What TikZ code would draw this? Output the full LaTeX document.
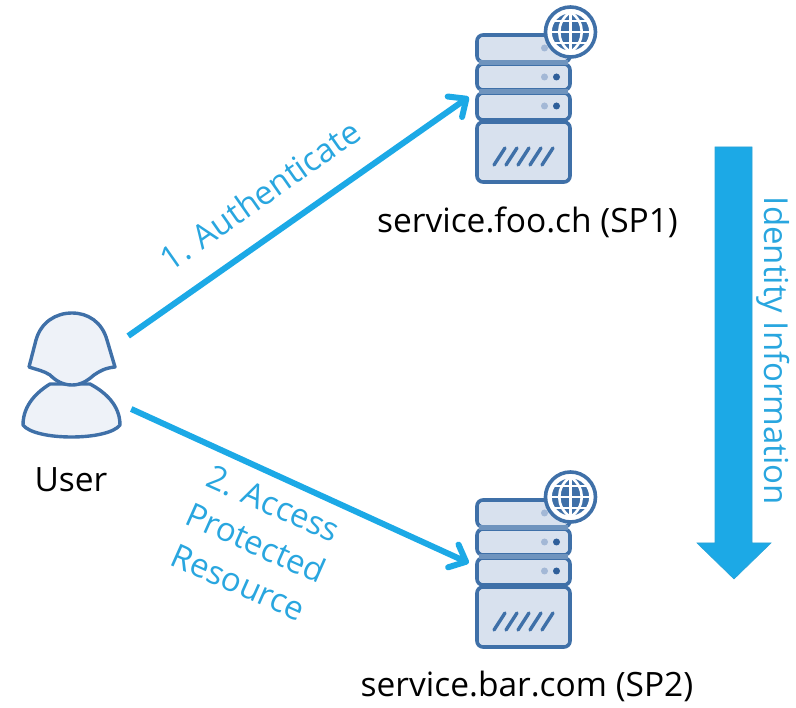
\documentclass[tikz,border=0pt]{standalone}
\usepackage{fontspec}
\setmainfont{Open Sans}
\usetikzlibrary{arrows.meta}
\definecolor{cyanline}{HTML}{1CA9E6}
\definecolor{cyantext}{HTML}{29A6DF}
\definecolor{iconblue}{HTML}{3F70A8}
\definecolor{iconfill}{HTML}{D8E1EE}
\definecolor{userfill}{HTML}{EEF2F8}
\definecolor{dotlight}{HTML}{A3B8D6}
\definecolor{dotdark}{HTML}{2F5F9A}
\tikzset{
  x=1pt,y=-1pt,
  flow/.style={draw=cyanline,line width=6pt,-{Straight Barb[round,length=14pt,width=25pt,line width=6pt]}},
  flowtext/.style={text=cyantext,font=\fontsize{33}{43}\selectfont,inner sep=0pt,align=center},
  blacktext/.style={text=black,font=\fontsize{33.5}{38}\selectfont,inner sep=0pt},
  hitbox/.style={inner sep=0pt,minimum width=#1},
  icon/.style={draw=iconblue,line width=3.6pt,fill=iconfill,rounded corners=6pt},
}
\newcommand{\serverpic}[2]{%
 \begin{scope}[shift={(#1,#2)}]
  \draw[icon] (477,35) rectangle (570,62);
  \draw[icon] (477,64) rectangle (570,90);
  \draw[icon] (477,93) rectangle (570,120);
  \draw[icon] (477,122) rectangle (570,182);
  \fill[iconblue!75!white] (479,60) rectangle (568,65);
  \fill[iconblue!75!white] (479,89) rectangle (568,94);
  \foreach \yy in {48,77,106}{\fill[dotlight] (544.5,\yy) circle (3.5);}
  \foreach \yy in {77,106}{\fill[dotdark] (556.5,\yy) circle (3.5);}
  \foreach \xx in {0,12,24,36,48}{\draw[iconblue,line width=3.4pt,line cap=round] (494+\xx,165)--(505+\xx,148);}
  \draw[draw=iconblue,line width=3.6pt,fill=white] (570.5,32) circle (25);
  \begin{scope}[shift={(570.5,32)}]
   \fill[iconblue] (0,0) circle (20);
   \fill[white] (-20,-1.4) rectangle (20,1.4);
   \fill[white] (-1.4,-20) rectangle (1.4,20);
   \draw[white,line width=2.6pt] (0,-20) .. controls (-15,-10) and (-15,10) .. (0,20);
   \draw[white,line width=2.6pt] (0,-20) .. controls (15,-10) and (15,10) .. (0,20);
   \draw[white,line width=2.6pt] (-17,-11) -- (17,-11);
   \draw[white,line width=2.6pt] (-17,11) -- (17,11);
   \draw[white,line width=2.6pt] (0,0) circle (20);
  \end{scope}
 \end{scope}}
\begin{document}
\begin{tikzpicture}
\useasboundingbox (0,0) rectangle (796,708);
% big arrow
\draw[fill=cyanline,draw=cyanline!85!gray,line width=0.6pt,line join=miter]
  (715,147) -- (752,147) -- (752,543) -- (771,543) -- (734,579) -- (697,543) -- (715,543) -- cycle;
% user
\draw[draw=iconblue,line width=3.4pt,fill=userfill,line join=round]
  (50,384) .. controls (37,392) and (23,405) .. (23,425)
  .. controls (35,441) and (108,441) .. (120,425)
  .. controls (120,405) and (105,392) .. (90,384) -- cycle;
\draw[draw=iconblue,line width=3.4pt,fill=userfill,line join=round]
  (29,367) -- (36,340) .. controls (41,322) and (56,313) .. (72,313)
  .. controls (88,313) and (102,322) .. (107,340) -- (115,367)
  .. controls (105,368) and (100,371) .. (94,375)
  .. controls (86,382) and (80,385) .. (72,385)
  .. controls (63,385) and (56,381) .. (50,375)
  .. controls (44,371) and (38,370) .. (29,367) -- cycle;
\serverpic{0}{0}
\serverpic{0}{465}
% anchor nodes
\node[hitbox=97pt,minimum height=124pt] (user) at (71.5,375) {};
\node[hitbox=93pt,minimum height=150pt] (srvone) at (523.5,108) {};
\node[hitbox=93pt,minimum height=150pt] (srvtwo) at (523.5,573) {};
% connectors
\draw[flow] ([xshift=8pt,yshift=39pt]user.east) -- ([xshift=-8pt,yshift=11pt]srvone.west);
\draw[flow] ([xshift=11pt,yshift=-34pt]user.east) -- ([xshift=-8pt,yshift=10pt]srvtwo.west);
% labels
\node[blacktext] (lbluser) at (71,480) {User};
\node[blacktext] (lblone) at (527.5,222) {service.foo.ch (SP1)};
\node[blacktext] (lbltwo) at (527,686) {service.bar.com (SP2)};
\node[flowtext,rotate=35] (auth) at (260,195) {1. Authenticate};
\node[flowtext,rotate=-24] (access) at (256,543) {2. Access\\Protected\\Resource};
\node[flowtext,rotate=-90] (ident) at (773,351) {Identity Information};
\end{tikzpicture}
\end{document}
